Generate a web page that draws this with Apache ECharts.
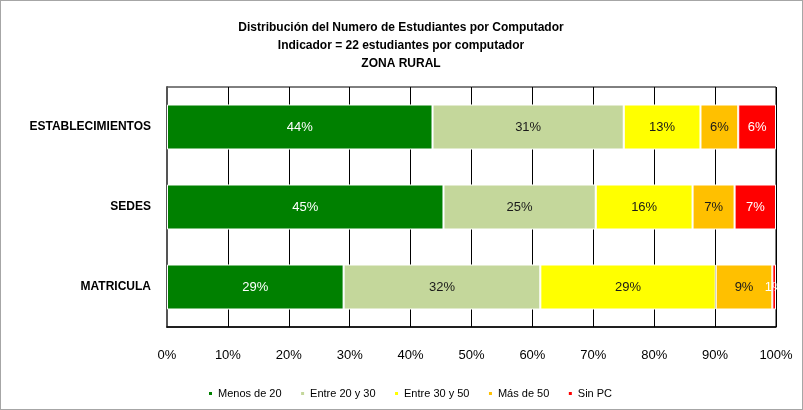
<!DOCTYPE html>
<html>
<head>
<meta charset="utf-8">
<script src="https://cdn.jsdelivr.net/npm/echarts@6/dist/echarts.min.js"></script>
<style>
  html, body { margin: 0; padding: 0; background: #fff; }
  #chart { width: 803px; height: 410px; box-sizing: border-box; border: 1px solid #a6a6a6; }
</style>
</head>
<body>
<div id="chart"></div>
<script>
// categorias y series (porcentajes)
const categories = ["ESTABLECIMIENTOS", "SEDES", "MATRICULA"];
const seriesNames = ["Menos de 20", "Entre 20 y 30", "Entre 30 y 50", "Más de 50", "Sin PC"];
const menos20 = [43.6, 45.4, 29.0];
const entre20y30 = [31.4, 25.0, 32.3];
const entre30y50 = [12.6, 15.9, 28.8];
const masDe50 = [6.2, 6.9, 9.3];
const sinPC = [6.2, 6.8, 0.6];
const tickLabels = ["0%", "10%", "20%", "30%", "40%", "50%", "60%", "70%", "80%", "90%", "100%"];

const colors = ["#008000", "#C4D79B", "#FFFF00", "#FFC000", "#FF0000"];
const labelColors = ["#fff", "#1a1a1a", "#1a1a1a", "#1a1a1a", "#fff"];
const values = [menos20, entre20y30, entre30y50, masDe50, sinPC];

const chart = echarts.init(document.getElementById("chart"));

const series = seriesNames.map((name, i) => ({
    name: name,
    type: "bar",
    stack: "total",
    barWidth: 45,
    data: values[i],
    itemStyle: { color: colors[i], borderColor: "#fff", borderWidth: 1 },
    label: {
        show: true,
        position: "inside",
        color: labelColors[i],
        fontSize: 13,
        fontFamily: "Liberation Sans",
        formatter: (p) => Math.round(p.value) + "%",
    },
}));

chart.setOption({
    animation: false,
    title: {
        text: "Distribución del Numero de Estudiantes por Computador\nIndicador = 22 estudiantes por computador\nZONA RURAL",
        left: 395,
        top: 13,
        textAlign: "center",
        textStyle: {
            fontFamily: "Liberation Sans",
            fontSize: 12,
            fontWeight: "bold",
            color: "#000",
            lineHeight: 18,
        },
    },
    legend: {
        data: seriesNames,
        left: 201,
        top: 382,
        itemWidth: 5,
        itemHeight: 5,
        itemGap: 17.5,
        icon: "rect",
        textStyle: { fontFamily: "Liberation Sans", fontSize: 11, color: "#000" },
    },
    grid: {
        left: 166,
        right: 26,
        top: 86,
        bottom: 82,
        show: true,
        borderColor: "#000",
        borderWidth: 1,
    },
    xAxis: {
        type: "value",
        min: 0,
        max: 100,
        interval: 10,
        axisLine: { show: true, lineStyle: { color: "#000", width: 1.5 } },
        axisTick: { show: false },
        splitLine: { show: true, lineStyle: { color: "#000", width: 1 } },
        axisLabel: {
            margin: 22,
            fontSize: 13,
            fontFamily: "Liberation Sans",
            color: "#000",
            formatter: (v) => tickLabels[Math.round(v / 10)],
        },
    },
    yAxis: {
        type: "category",
        data: categories,
        inverse: true,
        axisLine: { show: true, lineStyle: { color: "#555", width: 2 } },
        axisTick: { show: false },
        axisLabel: {
            margin: 16,
            fontSize: 12,
            fontWeight: "bold",
            fontFamily: "Liberation Sans",
            color: "#000",
        },
    },
    series: series,
});
</script>
</body>
</html>
